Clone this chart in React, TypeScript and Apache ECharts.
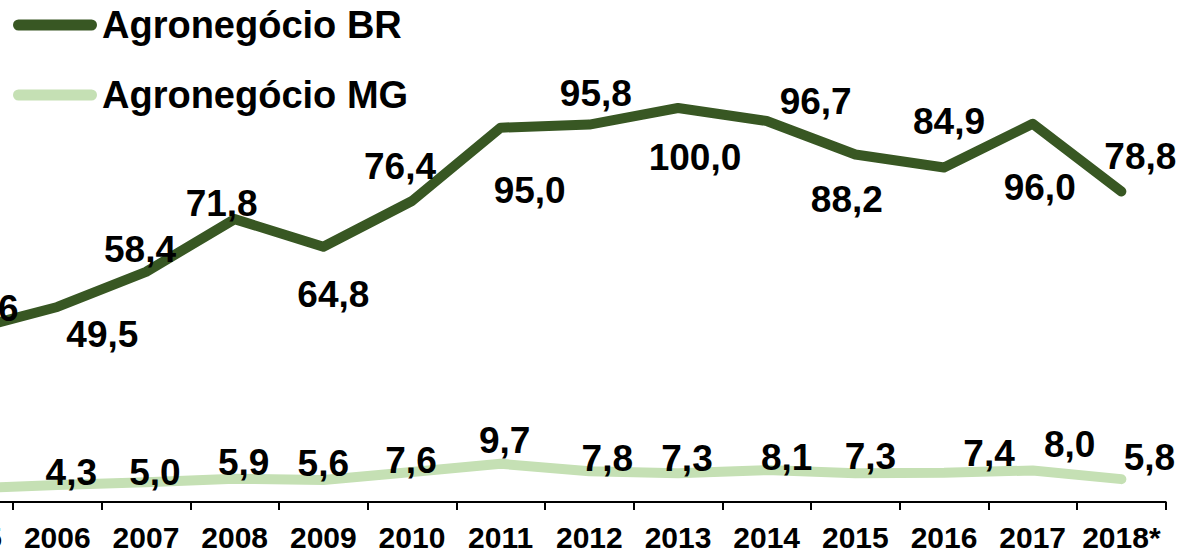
import React, { useEffect, useRef } from "react";
import * as echarts from "echarts";

const categories = ["2005", "2006", "2007", "2008", "2009", "2010", "2011", "2012", "2013", "2014", "2015", "2016", "2017", "2018*"];
const agroBR = [43.6, 49.5, 58.4, 71.8, 64.8, 76.4, 95.0, 95.8, 100.0, 96.7, 88.2, 84.9, 96.0, 78.8];
const agroMG = [3.4, 4.3, 5.0, 5.9, 5.6, 7.6, 9.7, 7.8, 7.3, 8.1, 7.3, 7.4, 8.0, 5.8];

// label offsets (px) relative to each point
const brLabelOffsets: [number, number][] = [
  [14, -22], [45, 27.5], [-6, -22], [-13, -15.5], [10, 47.5], [-12, -34.5], [29, 62.5],
  [6.5, -31], [17, 49], [49, -20], [-8.5, 45], [5, -45.5], [7, 64], [19, -35.5],
];
const mgLabelOffsets: [number, number][] = [
  [0, -16], [14, -12.5], [9, -10], [9, -16], [0, -16], [-1, -11.5], [4, -23],
  [18, -13], [9, -15], [20, -12.5], [15, -17], [45, -19], [37, -26], [28, -21.5],
];

const FONT = "'Liberation Sans', Arial, sans-serif";
const fmt = (v: number) => v.toFixed(1).replace(".", ",");

export default function App() {
  const ref = useRef<HTMLDivElement>(null);
  useEffect(() => {
    if (!ref.current) return;
    const chart = echarts.init(ref.current, undefined, { renderer: "svg" });
    const labelBase = {
      show: true,
      position: "inside",
      fontFamily: FONT,
      fontWeight: "bold",
      fontSize: 37,
      color: "#000",
      formatter: (p: any) => fmt(p.value),
    };
    const mk = (vals: number[], offs: [number, number][]) =>
      vals.map((v, i) => ({ value: v, label: { offset: offs[i] } }));
    chart.setOption({
      animation: false,
      backgroundColor: "#ffffff",
      legend: {
        orient: "vertical",
        left: 8,
        top: 0,
        itemWidth: 84,
        itemHeight: 11,
        itemGap: 30,
        icon: "path://M5.5,0 L78.5,0 A5.5,5.5 0 0 1 78.5,11 L5.5,11 A5.5,5.5 0 0 1 5.5,0 Z",
        textStyle: { fontFamily: FONT, fontWeight: "bold", fontSize: 38, color: "#000", lineHeight: 40 },
        data: ["Agronegócio BR", "Agronegócio MG"],
      },
      grid: { left: -75.7, right: 17.3, top: 29.2, bottom: 52, outerBoundsMode: "none", containLabel: false },
      xAxis: {
        type: "category",
        data: categories,
        boundaryGap: true,
        axisLine: { lineStyle: { color: "#000", width: 2 } },
        axisTick: { show: true, length: 8, lineStyle: { color: "#000", width: 2 } },
        axisLabel: { fontFamily: FONT, fontWeight: "bold", fontSize: 30, color: "#000", margin: 20, interval: 0, lineHeight: 30 },
        splitLine: { show: false },
      },
      yAxis: { type: "value", min: 0, max: 120, show: false, splitLine: { show: false } },
      series: [
        {
          name: "Agronegócio BR",
          type: "line",
          data: mk(agroBR, brLabelOffsets),
          symbol: "circle",
          symbolSize: 1,
          showSymbol: true,
          color: "#385723",
          itemStyle: { color: "#385723" },
          lineStyle: { color: "#385723", width: 10, cap: "round", join: "round" },
          label: labelBase,
          z: 3,
        },
        {
          name: "Agronegócio MG",
          type: "line",
          data: mk(agroMG, mgLabelOffsets),
          symbol: "circle",
          symbolSize: 1,
          showSymbol: true,
          color: "#C5E0B4",
          itemStyle: { color: "#C5E0B4" },
          lineStyle: { color: "#C5E0B4", width: 10, cap: "round", join: "round" },
          label: labelBase,
          z: 2,
        },
      ],
    });
    return () => chart.dispose();
  }, []);
  return (
    <div
      ref={ref}
      style={{ position: "absolute", left: 0, top: 0, width: 1183, height: 554, background: "#fff" }}
    />
  );
}
